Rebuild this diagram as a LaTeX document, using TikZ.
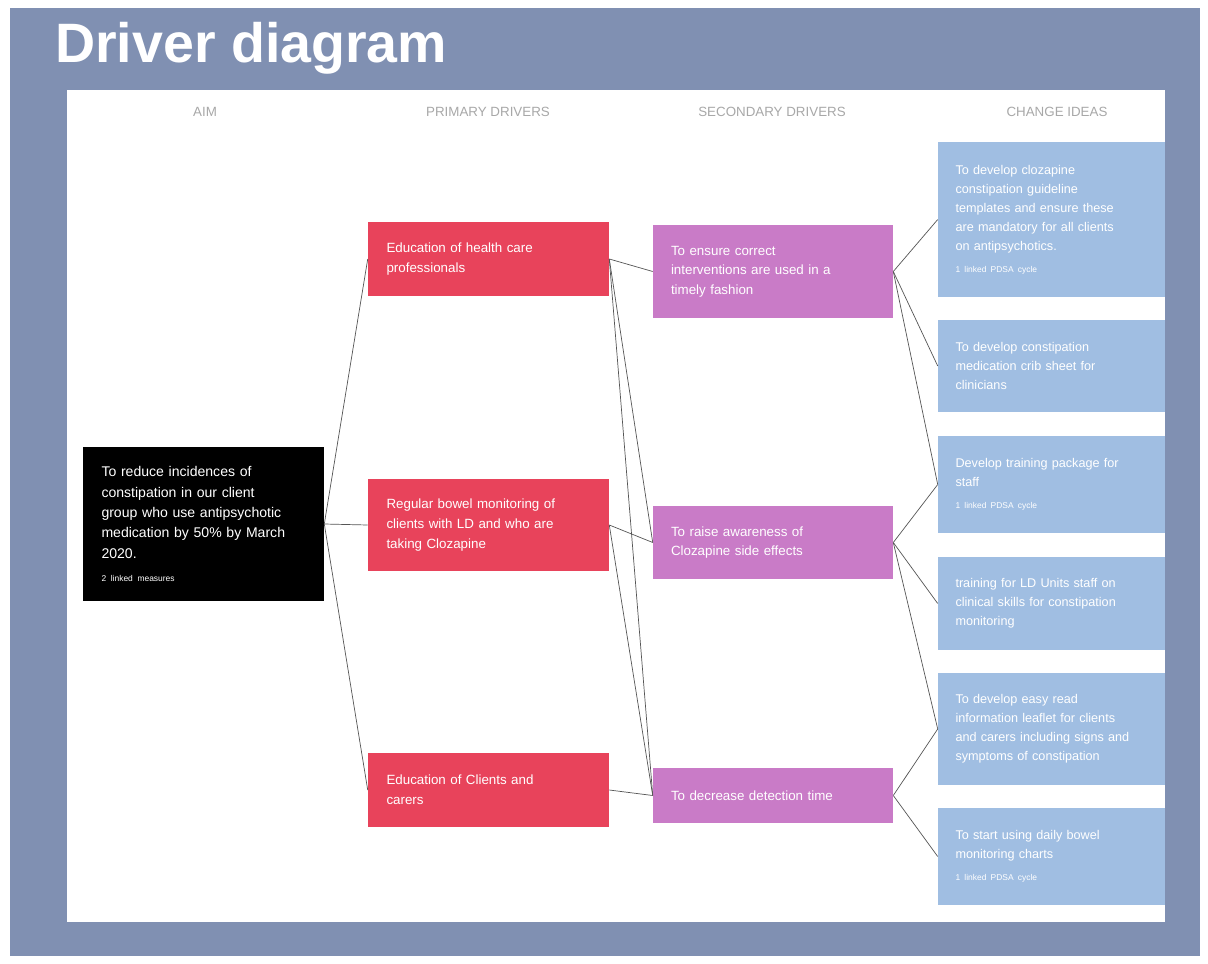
\documentclass[tikz,border=0pt]{standalone}
\usepackage{fontspec}
\setmainfont{Liberation Sans}
\usepackage{tikz}
\usetikzlibrary{positioning}

\definecolor{slide}{HTML}{8090B2}
\definecolor{primred}{HTML}{E8435B}
\definecolor{secpurple}{HTML}{C97BC7}
\definecolor{ideablue}{HTML}{A0BEE2}
\definecolor{headgrey}{HTML}{A8A8A8}
\definecolor{linkgrey}{HTML}{555555}

\tikzset{
  box/.style={rectangle, inner xsep=0.42cm, inner ysep=0pt, align=left, text=white},
  aim/.style={box, fill=black, minimum width=6.025cm, minimum height=3.85cm,
    text width=5.1cm, font=\fontsize{10}{14.5}\selectfont},
  primary/.style={box, fill=primred, minimum width=6.025cm, text width=5.1cm,
    font=\fontsize{9.5}{14}\selectfont},
  secondary/.style={box, fill=secpurple, minimum width=6cm, text width=5.1cm,
    font=\fontsize{9.5}{14}\selectfont},
  idea/.style={box, fill=ideablue, minimum width=5.675cm, text width=4.8cm,
    font=\fontsize{9}{13.5}\selectfont},
  colhead/.style={text=headgrey, font=\fontsize{9.5}{11}\selectfont},
  link/.style={draw=linkgrey, line width=0.5pt}
}
\newcommand{\linked}[1]{\\[2pt]{\fontsize{6}{8}\selectfont #1}}

\begin{document}
\begin{tikzpicture}
  % slide and white panel
  \useasboundingbox (0,0) rectangle (30.2,-24.075);
  \fill[white] (0,0) rectangle (30.2,-24.075);
  \fill[slide] (0.25,-0.2) rectangle (30,-23.9);
  \fill[white] (1.675,-2.25) rectangle (29.125,-23.05);
  \node[anchor=base west, text=white, inner sep=0pt,
    font=\fontsize{39.5}{46}\selectfont\bfseries] (title) at (1.375,-1.55) {Driver diagram};

  % column headings
  \node[colhead] (haim) at (5.125,-2.8) {AIM};
  \node[colhead] (hprim) at (12.2,-2.8) {PRIMARY DRIVERS};
  \node[colhead] (hsec) at (19.3,-2.8) {SECONDARY DRIVERS};
  \node[colhead] (hidea) at (26.425,-2.8) {CHANGE IDEAS};

  % aim
  \node[aim] (aim) at (5.0875,-13.1) {To reduce incidences of\\constipation in our client\\group who use antipsychotic\\medication by 50\% by March\\2020.\linked{2 linked measures}};

  % primary drivers
  \node[primary, minimum height=1.85cm] (p1) at (12.2125,-6.475) {Education of health care\\professionals};
  \node[primary, minimum height=2.3cm] (p2) at (12.2125,-13.125) {Regular bowel monitoring of\\clients with LD and who are\\taking Clozapine};
  \node[primary, minimum height=1.85cm] (p3) at (12.2125,-19.75) {Education of Clients and\\carers};

  % secondary drivers
  \node[secondary, minimum height=2.325cm] (s1) at (19.325,-6.7875) {To ensure correct\\interventions are used in a\\timely fashion};
  \node[secondary, minimum height=1.825cm] (s2) at (19.325,-13.5625) {To raise awareness of\\Clozapine side effects};
  \node[secondary, minimum height=1.375cm] (s3) at (19.325,-19.8875) {To decrease detection time};

  % change ideas
  \node[idea, minimum height=3.875cm] (c1) at (26.2875,-5.4875) {To develop clozapine\\constipation guideline\\templates and ensure these\\are mandatory for all clients\\on antipsychotics.\linked{1 linked PDSA cycle}};
  \node[idea, minimum height=2.3cm] (c2) at (26.2875,-9.15) {To develop constipation\\medication crib sheet for\\clinicians};
  \node[idea, minimum height=2.425cm] (c3) at (26.2875,-12.1125) {Develop training package for\\staff\linked{1 linked PDSA cycle}};
  \node[idea, minimum height=2.325cm] (c4) at (26.2875,-15.0875) {training for LD Units staff on\\clinical skills for constipation\\monitoring};
  \node[idea, minimum height=2.8cm] (c5) at (26.2875,-18.225) {To develop easy read\\information leaflet for clients\\and carers including signs and\\symptoms of constipation};
  \node[idea, minimum height=2.425cm] (c6) at (26.2875,-21.4125) {To start using daily bowel\\monitoring charts\linked{1 linked PDSA cycle}};

  \path[every edge/.style={link}]
    (aim.east)
      edge (p1.west)
      edge (p2.west)
      edge (p3.west)
    (p1.east)
      edge (s1.west)
      edge (s2.west)
      edge (s3.west)
    (p2.east)
      edge (s2.west)
      edge (s3.west)
    (p3.east)
      edge (s3.west)
    (s1.east)
      edge (c1.west)
      edge (c2.west)
      edge (c3.west)
    (s2.east)
      edge (c3.west)
      edge (c4.west)
      edge (c5.west)
    (s3.east)
      edge (c5.west)
      edge (c6.west);
\end{tikzpicture}
\end{document}
